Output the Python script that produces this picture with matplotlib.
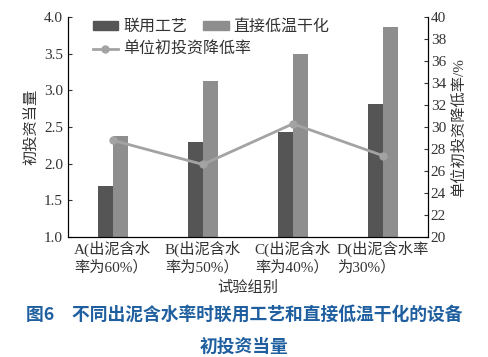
import numpy as np
import matplotlib.pyplot as plt
from matplotlib.lines import Line2D
from matplotlib.patches import Patch

plt.rcParams['font.family'] = ['Liberation Serif', 'Noto Sans CJK SC']

groups = ["A(出泥含水\n率为60%）", "B(出泥含水\n率为50%）", "C(出泥含水\n率为40%）", "D(出泥含水率\n为30%）"]
combined = [1.70, 2.29, 2.43, 2.81]
direct_dry = [2.38, 3.13, 3.50, 3.86]
reduction = [28.8, 26.6, 30.3, 27.4]

c_dark = '#555555'
c_light = '#8e8e8e'
c_line = '#a3a3a3'

fig = plt.figure(figsize=(4.88, 3.57), dpi=100)
ax = fig.add_axes([0.139, 0.336, 0.738, 0.616])
x = np.arange(len(groups))
w = 0.167
b1 = ax.bar(x - w / 2, combined, w, color=c_dark)
b2 = ax.bar(x + w / 2, direct_dry, w, color=c_light)
ax.set_ylim(1.0, 4.0)
ax.set_xlim(-0.5, 3.5)
ax.set_yticks([1.0, 1.5, 2.0, 2.5, 3.0, 3.5, 4.0])
ax.set_yticklabels(['1.0', '1.5', '2.0', '2.5', '3.0', '3.5', '4.0'])
ax.set_xticks(x)
ax.set_xticklabels(groups, multialignment='left', linespacing=1.25)
ax.tick_params(axis='x', length=0, labelsize=11, colors='#333333', pad=3)
ax.tick_params(axis='y', direction='in', length=3, labelsize=11, colors='#333333')
ax.spines['top'].set_visible(False)
ax.set_ylabel('初投资当量', fontsize=11, color='#333333', labelpad=4)
ax.set_xlabel('试验组别', fontsize=11, color='#333333', labelpad=4)

ax2 = ax.twinx()
ax2.plot(x, reduction, color=c_line, lw=2, marker='o', ms=5)
ax2.set_ylim(20, 40)
ax2.set_yticks(range(20, 41, 2))
ax2.tick_params(axis='y', direction='in', length=3, labelsize=11, colors='#333333', pad=2)
ax2.spines['top'].set_visible(False)
ax2.set_ylabel('单位初投资降低率/%', fontsize=11, color='#333333', labelpad=4)

leg1 = ax2.legend([Patch(color=c_dark), Patch(color=c_light)], ['联用工艺', '直接低温干化'],
                  ncol=2, loc='center left', bbox_to_anchor=(0.069, 0.955), frameon=False,
                  fontsize=11.5, handlelength=1.6, handleheight=0.5, columnspacing=1.0,
                  handletextpad=0.3, borderpad=0, borderaxespad=0, labelcolor='#333333')
ax2.add_artist(leg1)
ax2.legend([Line2D([], [], color=c_line, lw=2, marker='o', ms=5)], ['单位初投资降低率'],
           loc='center left', bbox_to_anchor=(0.069, 0.85), frameon=False,
           fontsize=11.5, handlelength=1.6, handletextpad=0.3, borderpad=0,
           borderaxespad=0, labelcolor='#333333')

fig.text(0.5, 0.105, '图6　不同出泥含水率时联用工艺和直接低温干化的设备',
         ha='center', fontsize=12.8, fontweight='bold', color='#1f5f9f', family=['Noto Sans CJK SC'])
fig.text(0.5, 0.015, '初投资当量',
         ha='center', fontsize=12.8, fontweight='bold', color='#1f5f9f', family=['Noto Sans CJK SC'])

fig.savefig('out.png', dpi=100)
